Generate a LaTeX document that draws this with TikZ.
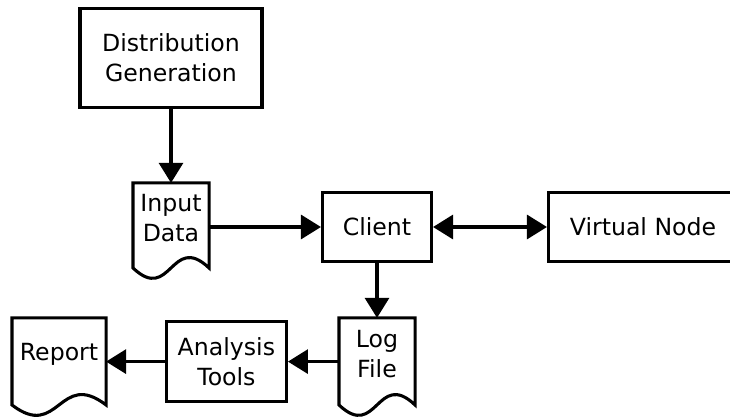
\documentclass[tikz,border=0pt]{standalone}
\usepackage{fontspec}
\setmainfont{DejaVu Sans}
\usetikzlibrary{arrows.meta}

% outline of a document: flat top, wavy bottom below the node
\newcommand{\docoutline}[1]{%
	\draw ([yshift=-0.35cm]#1.south east)
	  .. controls ([yshift=0.55cm]#1.south) and ([yshift=-1.25cm]#1.south)
	  .. ([yshift=-0.35cm]#1.south west) -- (#1.north west) -- (#1.north east) -- cycle;}

\begin{document}
\begin{tikzpicture}[line width=2.2pt,
	font=\fontsize{16.8}{21.3}\selectfont,
	box/.style={draw, align=center, inner sep=0pt},
	doc/.style={align=center, inner sep=0pt, minimum width=1.825cm, minimum height=1.75cm},
	flow/.style={-{Triangle[length=0.5cm,width=0.6cm]}},
	flowboth/.style={{Triangle[length=0.5cm,width=0.6cm]}-{Triangle[length=0.5cm,width=0.6cm]}}]
	\useasboundingbox (0,0) rectangle (18.25,-10.45);

	\node[box, minimum width=4.55cm, minimum height=2.475cm] (dist) at (4.275,-1.45) {Distribution\\Generation};

	\node[doc, minimum height=1.7cm] (input) at (4.275,-5.46) {Input\\Data};
	\docoutline{input}

	\node[box, minimum width=2.725cm, minimum height=1.725cm] (client) at (9.425,-5.675) {Client};
	\node[box, minimum width=4.725cm, minimum height=1.725cm] (vnode) at (16.075,-5.675) {Virtual Node};

	\node[doc] (log) at (9.425,-8.86) {Log\\File};
	\docoutline{log}

	\node[box, minimum width=3cm, minimum height=2cm] (tools) at (5.66,-9.04) {Analysis\\Tools};

	\node[doc, minimum width=2.275cm] (report) at (1.475,-8.86) {Report};
	\docoutline{report}

	% arrows
	\draw[flow] (dist) -- (input);
	\draw[flow] (client.west -| input.east) -- (client);
	\draw[flowboth] (client) -- (vnode);
	\draw[flow] (client) -- (log);
	\draw[flow] (tools.east -| log.west) -- (tools);
	\draw[flow] (tools) -- (tools.west -| report.east);
\end{tikzpicture}
\end{document}
